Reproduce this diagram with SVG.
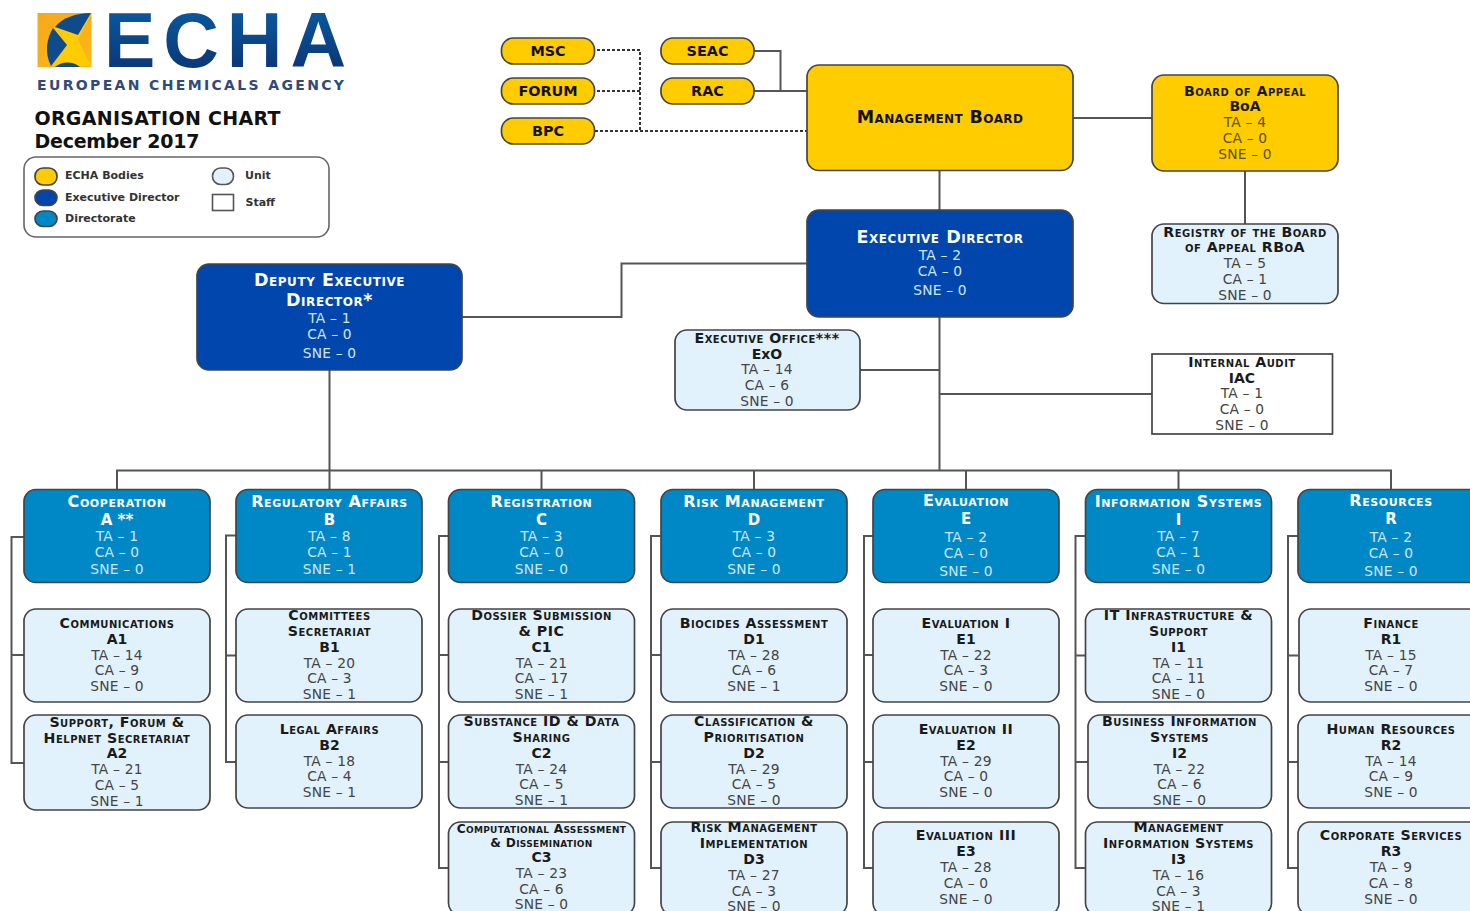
<svg xmlns="http://www.w3.org/2000/svg" width="1470" height="911" viewBox="0 0 1470 911">
<style>
text{font-family:"DejaVu Sans","Verdana",sans-serif;text-anchor:middle;font-size:13.8px;letter-spacing:.2px}
.b{stroke:#444;stroke-width:1.7}
.y{fill:#ffcc00}.d{fill:#0046ad}.r{fill:#0088c6}.u{fill:#e1f2fc}.w{fill:#fff}
.h{font-weight:bold;font-variant:small-caps;fill:#1a1a1a;font-size:14.2px;letter-spacing:.5px}
.k{font-weight:bold;fill:#1a1a1a;font-size:14px;letter-spacing:0}
.n{fill:#444}
.hw{font-weight:bold;font-variant:small-caps;fill:#fff;font-size:16px;letter-spacing:.6px}
.t{font-weight:bold;font-variant:small-caps;fill:#fff;font-size:17.5px;letter-spacing:.55px}
.kw{font-weight:bold;fill:#fff;font-size:15px;letter-spacing:0}
.nw{fill:#cfe6f5}
.s{font-size:12.2px;letter-spacing:.3px}
.l{font-weight:bold;font-size:11px;fill:#333;text-anchor:start;letter-spacing:0}
.c{fill:none;stroke:#555;stroke-width:2}
.dash{stroke-dasharray:3 2;stroke:#333}
.p{font-weight:bold;font-size:14.4px;fill:#111;letter-spacing:0}
.on{fill:#5a5000}
</style>
<defs>
<linearGradient id="lg" x1="0" y1="0" x2="0" y2="1"><stop offset="0" stop-color="#0a5fa6"/><stop offset="1" stop-color="#0b2f6e"/></linearGradient>
<linearGradient id="og" x1="0" y1="0" x2="1" y2="1"><stop offset="0" stop-color="#f7a81b"/><stop offset="1" stop-color="#fbb81a"/></linearGradient>
</defs>
<rect width="1470" height="911" fill="#fff"/>
<g id="logo">
<rect x="37.5" y="13" width="54" height="54" fill="url(#og)"/>
<polygon points="53,27 91,14 78,40 91,66 52,66 67,45" fill="#ffcb05"/>
<path d="M53,28C47,38 44,52 51,66L67,45Z" fill="#0f4a8a"/>
<path d="M55,27C62,18 76,13 91,13L78,35Z" fill="#0f4a8a"/>
<path d="M55,67C60,62 72,60 80,67Z" fill="#0f4a8a"/>
<text x="225" y="67" style="font-family:'Liberation Sans',sans-serif;font-weight:bold;font-size:77px;letter-spacing:0" fill="url(#lg)" textLength="242" lengthAdjust="spacing">ECHA</text>
<text x="190.500" y="90" style="font-weight:bold;font-size:14px;letter-spacing:0" fill="#2f4a7c" textLength="307" lengthAdjust="spacing">EUROPEAN CHEMICALS AGENCY</text>
</g>
<g id="title">
<text x="34.5" y="125" style="text-anchor:start;font-weight:bold;font-size:19px;fill:#111;letter-spacing:0" textLength="246">ORGANISATION CHART</text>
<text x="34.5" y="148" style="text-anchor:start;font-weight:bold;font-size:19px;fill:#111;letter-spacing:0" textLength="165">December 2017</text>
</g>
<g id="legend">
<rect x="24" y="157" width="305" height="80" rx="12" fill="#fff" stroke="#666" stroke-width="1.6"/>
<rect class="y b" x="35" y="168" width="22" height="17" rx="8"/>
<rect class="d b" x="35" y="190" width="22" height="15.5" rx="8"/>
<rect class="r b" x="35" y="211" width="22" height="15.5" rx="8"/>
<rect x="212.5" y="168" width="21" height="16.5" rx="8" fill="#e1f2fc" stroke="#555" stroke-width="1.6"/>
<rect x="212.5" y="194.500" width="21" height="16" fill="#fff" stroke="#555" stroke-width="1.6"/>
<text class="l" x="65" y="179">ECHA Bodies</text>
<text class="l" x="65" y="201">Executive Director</text>
<text class="l" x="65" y="222">Directorate</text>
<text class="l" x="245" y="179">Unit</text>
<text class="l" x="245.500" y="206">Staff</text>
</g>
<g id="connectors">
<path class="c" d="M939.500,170V470.500M117,489V470.500H1391V489M329.500,370V489M541.500,470.500V489M754,470.500V489M966,470.500V489M1178.500,470.500V489"/>
<path class="c" d="M462,317H621.500V263.500H807M860,370H939.500M939.500,394H1152M1073,118H1152M1245,171V224M754,51H780.500V91M754,91H807"/>
<path class="c dash" d="M592,50H640V131M597,91H640M595,131H807"/>
<path class="c" d="M24,537H11.500V763H24M11.500,655H24"/>
<path class="c" d="M236,535.500H226V762H236M226,655.500H236"/>
<path class="c" d="M449,536H439V868H449M439,655H449M439,762H449"/>
<path class="c" d="M661,536H651V868H661M651,655H661M651,762H661"/>
<path class="c" d="M873,536H864V868H873M864,655H873M864,762H873"/>
<path class="c" d="M1085,536H1075.500V868H1085M1075.500,655.500H1085M1075.500,762H1088"/>
<path class="c" d="M1298,536H1288V868H1298M1288,655.500H1298M1288,762H1298"/>
</g>
<g id="msc"><rect class="y b" x="501.500" y="38" width="93" height="26" rx="12"/><text class="p" x="548" y="55.500">MSC</text></g>
<g id="forum"><rect class="y b" x="501.500" y="78" width="93" height="26" rx="12"/><text class="p" x="548" y="95.500">FORUM</text></g>
<g id="bpc"><rect class="y b" x="501.500" y="118" width="93" height="26" rx="12"/><text class="p" x="548" y="135.500">BPC</text></g>
<g id="seac"><rect class="y b" x="661" y="38" width="93" height="26" rx="12"/><text class="p" x="707.500" y="55.500">SEAC</text></g>
<g id="rac"><rect class="y b" x="661" y="78" width="93" height="26" rx="12"/><text class="p" x="707.500" y="95.500">RAC</text></g>
<g id="mb"><rect class="y b" x="807" y="65" width="266" height="105.500" rx="12"/><text class="t" x="940" y="122.500" style="fill:#111;letter-spacing:.4px">Management Board</text></g>
<g id="boa"><rect class="y b" x="1152" y="75" width="186" height="96" rx="12"/>
<text class="h" x="1245" y="95.500">Board of Appeal</text><text class="k" x="1245" y="111">BoA</text><text class="on" x="1245" y="127">TA – 4</text><text class="on" x="1245" y="143">CA – 0</text><text class="on" x="1245" y="159">SNE – 0</text></g>
<g id="ed"><rect class="d b" x="807" y="210" width="266" height="107" rx="12"/>
<text class="t" x="940" y="243">Executive Director</text><text class="nw" x="940" y="260">TA – 2</text><text class="nw" x="940" y="276">CA – 0</text><text class="nw" x="940" y="295">SNE – 0</text></g>
<g id="rboa"><rect class="u b" x="1152" y="224" width="186" height="79.500" rx="12"/>
<text class="h" x="1245" y="236.500">Registry of the Board</text><text class="h" x="1245" y="252">of Appeal RBoA</text><text class="n" x="1245" y="268">TA – 5</text><text class="n" x="1245" y="284">CA – 1</text><text class="n" x="1245" y="300">SNE – 0</text></g>
<g id="ded"><rect class="d b" x="197" y="264" width="265" height="106" rx="12"/>
<text class="t" x="329.500" y="286">Deputy Executive</text><text class="t" x="329.500" y="306">Director*</text><text class="nw" x="329.500" y="323">TA – 1</text><text class="nw" x="329.500" y="339">CA – 0</text><text class="nw" x="329.500" y="358">SNE – 0</text></g>
<g id="exo"><rect class="u b" x="675" y="330" width="185" height="80" rx="12"/>
<text class="h" x="767" y="343">Executive Office***</text><text class="k" x="767" y="359">ExO</text><text class="n" x="767" y="374">TA – 14</text><text class="n" x="767" y="390">CA – 6</text><text class="n" x="767" y="406">SNE – 0</text></g>
<g id="iac"><rect class="w b" x="1152" y="354" width="180.500" height="80"/>
<text class="h" x="1242" y="367">Internal Audit</text><text class="k" x="1242" y="383">IAC</text><text class="n" x="1242" y="398">TA – 1</text><text class="n" x="1242" y="414">CA – 0</text><text class="n" x="1242" y="430">SNE – 0</text></g>

<g id="dir-a"><rect class="r b" x="24" y="489.500" width="186" height="93" rx="12"/>
<text class="hw" x="117" y="507">Cooperation</text><text class="kw" x="117" y="525">A **</text><text class="nw" x="117" y="541">TA – 1</text><text class="nw" x="117" y="557">CA – 0</text><text class="nw" x="117" y="574">SNE – 0</text></g>
<g id="dir-b"><rect class="r b" x="236" y="489.500" width="186" height="93" rx="12"/>
<text class="hw" x="329.500" y="507">Regulatory Affairs</text><text class="kw" x="329.500" y="525">B</text><text class="nw" x="329.500" y="541">TA – 8</text><text class="nw" x="329.500" y="557">CA – 1</text><text class="nw" x="329.500" y="574">SNE – 1</text></g>
<g id="dir-c"><rect class="r b" x="448.500" y="489.500" width="186" height="93" rx="12"/>
<text class="hw" x="541.500" y="507">Registration</text><text class="kw" x="541.500" y="525">C</text><text class="nw" x="541.500" y="541">TA – 3</text><text class="nw" x="541.500" y="557">CA – 0</text><text class="nw" x="541.500" y="574">SNE – 0</text></g>
<g id="dir-d"><rect class="r b" x="661" y="489.500" width="186" height="93" rx="12"/>
<text class="hw" x="754" y="507">Risk Management</text><text class="kw" x="754" y="525">D</text><text class="nw" x="754" y="541">TA – 3</text><text class="nw" x="754" y="557">CA – 0</text><text class="nw" x="754" y="574">SNE – 0</text></g>
<g id="dir-e"><rect class="r b" x="873" y="489.500" width="186" height="93" rx="12"/>
<text class="hw" x="966" y="506">Evaluation</text><text class="kw" x="966" y="524">E</text><text class="nw" x="966" y="542">TA – 2</text><text class="nw" x="966" y="558">CA – 0</text><text class="nw" x="966" y="576">SNE – 0</text></g>
<g id="dir-i"><rect class="r b" x="1085.500" y="489.500" width="186" height="93" rx="12"/>
<text class="hw" x="1178.500" y="507">Information Systems</text><text class="kw" x="1178.500" y="525">I</text><text class="nw" x="1178.500" y="541">TA – 7</text><text class="nw" x="1178.500" y="557">CA – 1</text><text class="nw" x="1178.500" y="574">SNE – 0</text></g>
<g id="dir-r"><rect class="r b" x="1298" y="489.500" width="186" height="93" rx="12"/>
<text class="hw" x="1391" y="506">Resources</text><text class="kw" x="1391" y="524">R</text><text class="nw" x="1391" y="542">TA – 2</text><text class="nw" x="1391" y="558">CA – 0</text><text class="nw" x="1391" y="576">SNE – 0</text></g>

<g id="a1"><rect class="u b" x="24" y="609" width="186" height="93" rx="12"/>
<text class="h" x="117" y="628">Communications</text><text class="k" x="117" y="644">A1</text><text class="n" x="117" y="660">TA – 14</text><text class="n" x="117" y="675">CA – 9</text><text class="n" x="117" y="691">SNE – 0</text></g>
<g id="a2"><rect class="u b" x="24" y="715" width="186" height="95" rx="12"/>
<text class="h" x="117" y="727">Support, Forum &amp;</text><text class="h" x="117" y="743">Helpnet Secretariat</text><text class="k" x="117" y="758">A2</text><text class="n" x="117" y="774">TA – 21</text><text class="n" x="117" y="790">CA – 5</text><text class="n" x="117" y="806">SNE – 1</text></g>
<g id="b1"><rect class="u b" x="236" y="609" width="186" height="93" rx="12"/>
<text class="h" x="329.500" y="620">Committees</text><text class="h" x="329.500" y="636">Secretariat</text><text class="k" x="329.500" y="652">B1</text><text class="n" x="329.500" y="668">TA – 20</text><text class="n" x="329.500" y="683">CA – 3</text><text class="n" x="329.500" y="699">SNE – 1</text></g>
<g id="b2"><rect class="u b" x="236" y="715" width="186" height="93" rx="12"/>
<text class="h" x="329.500" y="734">Legal Affairs</text><text class="k" x="329.500" y="750">B2</text><text class="n" x="329.500" y="766">TA – 18</text><text class="n" x="329.500" y="781">CA – 4</text><text class="n" x="329.500" y="797">SNE – 1</text></g>
<g id="c1"><rect class="u b" x="448.500" y="609" width="186" height="93" rx="12"/>
<text class="h" x="541.500" y="620">Dossier Submission</text><text class="h" x="541.500" y="636">&amp; PIC</text><text class="k" x="541.500" y="652">C1</text><text class="n" x="541.500" y="668">TA – 21</text><text class="n" x="541.500" y="683">CA – 17</text><text class="n" x="541.500" y="699">SNE – 1</text></g>
<g id="c2"><rect class="u b" x="448.500" y="715" width="186" height="93" rx="12"/>
<text class="h" x="541.500" y="726">Substance ID &amp; Data</text><text class="h" x="541.500" y="742">Sharing</text><text class="k" x="541.500" y="758">C2</text><text class="n" x="541.500" y="774">TA – 24</text><text class="n" x="541.500" y="789">CA – 5</text><text class="n" x="541.500" y="805">SNE – 1</text></g>
<g id="c3"><rect class="u b" x="448.500" y="822" width="186" height="93" rx="12"/>
<text class="h s" x="541.500" y="833">Computational Assessment</text><text class="h s" x="541.500" y="847">&amp; Dissemination</text><text class="k" x="541.500" y="862">C3</text><text class="n" x="541.500" y="878">TA – 23</text><text class="n" x="541.500" y="894">CA – 6</text><text class="n" x="541.500" y="909">SNE – 0</text></g>
<g id="d1"><rect class="u b" x="661" y="609" width="186" height="93" rx="12"/>
<text class="h" x="754" y="628">Biocides Assessment</text><text class="k" x="754" y="644">D1</text><text class="n" x="754" y="660">TA – 28</text><text class="n" x="754" y="675">CA – 6</text><text class="n" x="754" y="691">SNE – 1</text></g>
<g id="d2"><rect class="u b" x="661" y="715" width="186" height="93" rx="12"/>
<text class="h" x="754" y="726">Classification &amp;</text><text class="h" x="754" y="742">Prioritisation</text><text class="k" x="754" y="758">D2</text><text class="n" x="754" y="774">TA – 29</text><text class="n" x="754" y="789">CA – 5</text><text class="n" x="754" y="805">SNE – 0</text></g>
<g id="d3"><rect class="u b" x="661" y="822" width="186" height="93" rx="12"/>
<text class="h" x="754" y="832">Risk Management</text><text class="h" x="754" y="848">Implementation</text><text class="k" x="754" y="864">D3</text><text class="n" x="754" y="880">TA – 27</text><text class="n" x="754" y="896">CA – 3</text><text class="n" x="754" y="911">SNE – 0</text></g>
<g id="e1"><rect class="u b" x="873" y="609" width="186" height="93" rx="12"/>
<text class="h" x="966" y="628">Evaluation I</text><text class="k" x="966" y="644">E1</text><text class="n" x="966" y="660">TA – 22</text><text class="n" x="966" y="675">CA – 3</text><text class="n" x="966" y="691">SNE – 0</text></g>
<g id="e2"><rect class="u b" x="873" y="715" width="186" height="93" rx="12"/>
<text class="h" x="966" y="734">Evaluation II</text><text class="k" x="966" y="750">E2</text><text class="n" x="966" y="766">TA – 29</text><text class="n" x="966" y="781">CA – 0</text><text class="n" x="966" y="797">SNE – 0</text></g>
<g id="e3"><rect class="u b" x="873" y="822" width="186" height="93" rx="12"/>
<text class="h" x="966" y="840">Evaluation III</text><text class="k" x="966" y="856">E3</text><text class="n" x="966" y="872">TA – 28</text><text class="n" x="966" y="888">CA – 0</text><text class="n" x="966" y="904">SNE – 0</text></g>
<g id="i1"><rect class="u b" x="1085.500" y="609" width="186" height="93" rx="12"/>
<text class="h" x="1178.500" y="620">IT Infrastructure &amp;</text><text class="h" x="1178.500" y="636">Support</text><text class="k" x="1178.500" y="652">I1</text><text class="n" x="1178.500" y="668">TA – 11</text><text class="n" x="1178.500" y="683">CA – 11</text><text class="n" x="1178.500" y="699">SNE – 0</text></g>
<g id="i2"><rect class="u b" x="1088" y="715" width="183.500" height="93" rx="12"/>
<text class="h" x="1179.500" y="726">Business Information</text><text class="h" x="1179.500" y="742">Systems</text><text class="k" x="1179.500" y="758">I2</text><text class="n" x="1179.500" y="774">TA – 22</text><text class="n" x="1179.500" y="789">CA – 6</text><text class="n" x="1179.500" y="805">SNE – 0</text></g>
<g id="i3"><rect class="u b" x="1085.500" y="822" width="186" height="93" rx="12"/>
<text class="h" x="1178.500" y="832">Management</text><text class="h" x="1178.500" y="848">Information Systems</text><text class="k" x="1178.500" y="864">I3</text><text class="n" x="1178.500" y="880">TA – 16</text><text class="n" x="1178.500" y="896">CA – 3</text><text class="n" x="1178.500" y="911">SNE – 1</text></g>
<g id="r1"><rect class="u b" x="1299" y="609" width="186" height="93" rx="12"/>
<text class="h" x="1391" y="628">Finance</text><text class="k" x="1391" y="644">R1</text><text class="n" x="1391" y="660">TA – 15</text><text class="n" x="1391" y="675">CA – 7</text><text class="n" x="1391" y="691">SNE – 0</text></g>
<g id="r2"><rect class="u b" x="1298" y="715" width="186" height="93" rx="12"/>
<text class="h" x="1391" y="734">Human Resources</text><text class="k" x="1391" y="750">R2</text><text class="n" x="1391" y="766">TA – 14</text><text class="n" x="1391" y="781">CA – 9</text><text class="n" x="1391" y="797">SNE – 0</text></g>
<g id="r3"><rect class="u b" x="1298" y="822" width="186" height="93" rx="12"/>
<text class="h" x="1391" y="840">Corporate Services</text><text class="k" x="1391" y="856">R3</text><text class="n" x="1391" y="872">TA – 9</text><text class="n" x="1391" y="888">CA – 8</text><text class="n" x="1391" y="904">SNE – 0</text></g>
</svg>
